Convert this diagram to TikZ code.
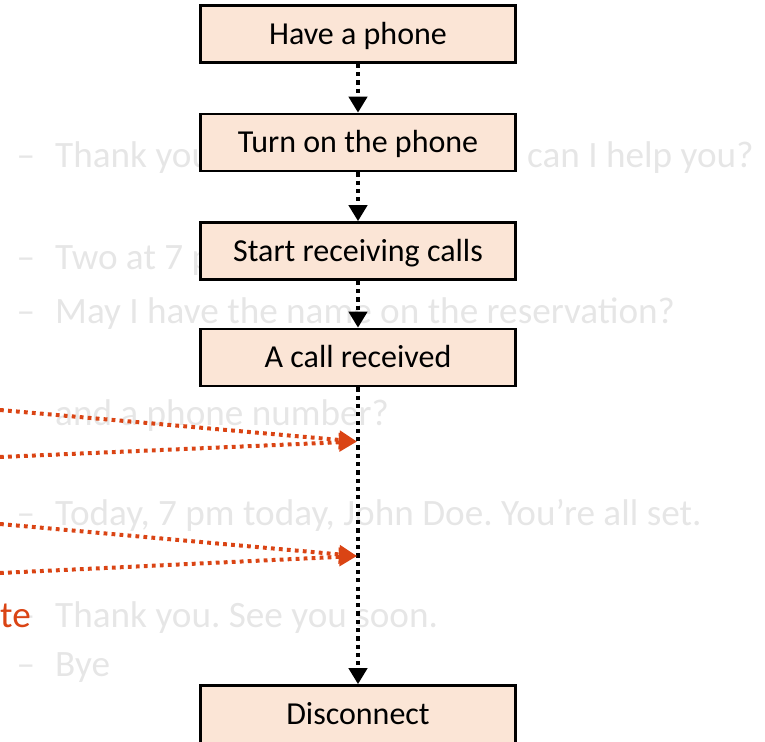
\documentclass[tikz,border=0pt]{standalone}
\usepackage{fontspec}
\setmainfont{Carlito}
\usetikzlibrary{arrows.meta}
\frenchspacing

\definecolor{boxfill}{RGB}{251,229,214}
\definecolor{faint}{RGB}{230,230,230}
\definecolor{cueorange}{RGB}{218,68,20}

\tikzset{
  stepbox/.style={draw=black, line width=2.6bp, fill=boxfill,
    minimum width=315bp, minimum height=57bp, inner sep=0pt,
    font=\fontsize{32bp}{38bp}\selectfont, text height=20.6bp, text depth=0pt},
  flow/.style={draw=black, line width=4.4bp, dash pattern=on 4.2bp off 4.1bp,
    -{Triangle[width=18bp,length=16bp]}},
  cue/.style={draw=cueorange, line width=4bp, dash pattern=on 3.8bp off 4.2bp,
    -{Triangle[width=18bp,length=18bp]}},
  faintline/.style={text=faint, anchor=base west, inner sep=0pt,
    font=\fontsize{37.2bp}{44bp}\selectfont},
}

\begin{document}
\begin{tikzpicture}[x=1bp,y=-1bp]
  \useasboundingbox (0,0) rectangle (765,742);
  \clip (0,0) rectangle (765,742);

  % faded dialogue lines in the background
  \foreach \yb/\nm in {167/d1,269/d2,323/d3,525/d5,627/d6,676/d7}
    \node[faintline] (\nm) at (16.5,\yb) {–};
  \node[faintline] (t1)  at (55,167)  {Thank you};
  \node[faintline] (t1b) at (527,167) {can I help you?};
  \node[faintline] (t2)  at (55,269)  {Two at 7 p};
  \node[faintline] (t3)  at (55,323)  {May I have the name on the reservation?};
  \node[faintline] (t4)  at (55,425)  {and a phone number?};
  \node[faintline] (t5)  at (55,525)  {Today, 7 pm today, John Doe. You’re all set.};
  \node[faintline] (t6)  at (55,627)  {Thank you. See you soon.};
  \node[faintline] (t7)  at (55,676)  {Bye};

  % flow steps
  \node[stepbox] (s1) at (358,34)    {Have a phone};
  \node[stepbox] (s2) at (358,142.5) {Turn on the phone};
  \node[stepbox] (s3) at (358,251)   {Start receiving calls};
  \node[stepbox] (s4) at (358,357.5) {A call received};
  \node[stepbox, minimum height=62bp, text depth=5bp] (s5) at (358,716.5) {Disconnect};

  \draw[flow] (s1) -- (s2);
  \draw[flow] (s2) -- (s3);
  \draw[flow] (s3) -- (s4);
  \draw[flow] (s4) -- (s5);

  % orange cues entering the timeline
  \coordinate (a1) at (0,410);
  \coordinate (a2) at (0,457);
  \coordinate (ha) at (357,441.5);
  \coordinate (b1) at (0,524);
  \coordinate (b2) at (0,573);
  \coordinate (hb) at (357,556);
  \draw[cue] (a1) -- (ha);
  \draw[cue] (a2) -- (ha);
  \draw[cue] (b1) -- (hb);
  \draw[cue] (b2) -- (hb);

  \node[text=cueorange, anchor=base east, inner sep=0pt,
        font=\fontsize{37.2bp}{44bp}\selectfont] (te) at (31,627) {te};
\end{tikzpicture}
\end{document}
